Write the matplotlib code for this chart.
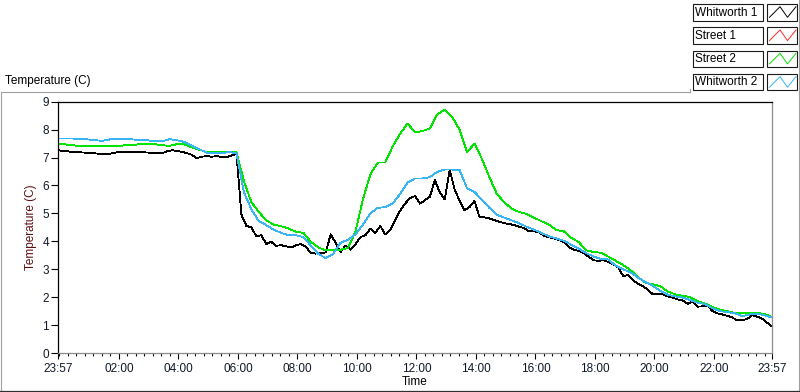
import numpy as np
import pandas as pd
import matplotlib
matplotlib.use("Agg")
import matplotlib.pyplot as plt
import matplotlib.dates as mdates
from matplotlib.lines import Line2D
from matplotlib.patches import Rectangle

W, H = 800, 392
plt.rcParams['font.family'] = ['Liberation Sans', 'DejaVu Sans']

# chart window: 24 hours starting at 23:57
start = pd.Timestamp("2014-03-01 23:57")
end = start + pd.Timedelta(hours=24)

series_names = ["Whitworth 1", "Street 1", "Street 2", "Whitworth 2"]
series_colors = ["#000000", "#ff2a2a", "#00e400", "#38b6f4"]

# Whitworth 1, one reading every 10 minutes
whitworth1 = [
    7.26, 7.24, 7.22, 7.20, 7.19, 7.18, 7.17, 7.16, 7.14, 7.12, 7.13, 7.15,
    7.19, 7.19, 7.20, 7.19, 7.20, 7.19, 7.18, 7.17, 7.17, 7.16, 7.22, 7.26,
    7.24, 7.20, 7.16, 7.10, 6.98, 7.03, 7.05, 7.03, 7.05, 7.02, 7.00, 7.08,
    7.12, 4.95, 4.55, 4.50, 4.18, 4.22, 3.90, 3.98, 3.84, 3.86, 3.82, 3.78,
    3.86, 3.90, 3.80, 3.58, 3.56, 3.58, 3.60, 4.25, 3.95, 3.62, 3.85, 3.70,
    3.90, 4.15, 4.22, 4.45, 4.30, 4.55, 4.25, 4.40, 4.76, 5.10, 5.35, 5.55,
    5.62, 5.35, 5.47, 5.60, 6.19, 5.75, 5.50, 6.55, 5.85, 5.45, 5.11, 5.23,
    5.45, 4.87, 4.86, 4.82, 4.76, 4.70, 4.65, 4.62, 4.58, 4.52, 4.48, 4.36,
    4.36, 4.32, 4.20, 4.15, 4.10, 4.05, 3.98, 3.80, 3.70, 3.66, 3.58, 3.45,
    3.32, 3.30, 3.32, 3.26, 3.18, 3.06, 2.75, 2.80, 2.60, 2.47, 2.40, 2.25,
    2.10, 2.12, 2.10, 2.03, 1.98, 1.92, 1.88, 1.76, 1.84, 1.66, 1.67, 1.70,
    1.50, 1.42, 1.38, 1.33, 1.27, 1.17, 1.18, 1.22, 1.35, 1.30, 1.23, 1.08,
    0.96,
]

# Street 1 shows in the legend but has no trace on the graph
street1 = []

# Street 2 and Whitworth 2, one reading every 15 minutes
street2 = [
    7.50, 7.47, 7.44, 7.41, 7.41, 7.41, 7.41, 7.41, 7.41, 7.44, 7.44, 7.48,
    7.48, 7.48, 7.44, 7.42, 7.48, 7.47, 7.36, 7.28, 7.20, 7.20, 7.20, 7.20,
    7.20, 6.15, 5.40, 5.05, 4.75, 4.60, 4.54, 4.46, 4.34, 4.30, 3.98, 3.78,
    3.68, 3.68, 3.70, 3.76, 4.35, 5.50, 6.40, 6.82, 6.82, 7.40, 7.85, 8.22,
    7.90, 7.95, 8.04, 8.55, 8.72, 8.45, 8.00, 7.20, 7.50, 6.95, 6.30, 5.70,
    5.40, 5.17, 5.05, 4.98, 4.85, 4.72, 4.60, 4.40, 4.36, 4.12, 3.98, 3.68,
    3.62, 3.59, 3.45, 3.30, 3.15, 2.96, 2.72, 2.51, 2.46, 2.39, 2.20, 2.10,
    2.05, 2.00, 1.86, 1.77, 1.65, 1.55, 1.50, 1.43, 1.43, 1.43, 1.43, 1.40,
    1.29,
]

whitworth2 = [
    7.68, 7.68, 7.68, 7.66, 7.65, 7.62, 7.60, 7.65, 7.65, 7.65, 7.65, 7.62,
    7.62, 7.58, 7.58, 7.66, 7.62, 7.56, 7.42, 7.30, 7.17, 7.15, 7.15, 7.20,
    7.15, 5.75, 5.15, 4.72, 4.58, 4.42, 4.30, 4.22, 4.22, 4.15, 3.85, 3.55,
    3.40, 3.55, 3.95, 4.05, 4.25, 4.60, 5.00, 5.20, 5.22, 5.35, 5.70, 6.10,
    6.25, 6.25, 6.30, 6.49, 6.57, 6.57, 6.55, 5.90, 5.77, 5.48, 5.20, 4.95,
    4.85, 4.75, 4.65, 4.52, 4.42, 4.30, 4.18, 4.10, 4.02, 3.88, 3.74, 3.58,
    3.45, 3.37, 3.35, 3.12, 3.00, 2.88, 2.70, 2.54, 2.40, 2.22, 2.08, 2.03,
    1.98, 1.90, 1.80, 1.75, 1.60, 1.50, 1.46, 1.43, 1.32, 1.38, 1.41, 1.35,
    1.27,
]

x_tick_labels = ["23:57", "02:00", "04:00", "06:00", "08:00", "10:00", "12:00",
                 "14:00", "16:00", "18:00", "20:00", "22:00", "23:57"]
y_ticks = [0, 1, 2, 3, 4, 5, 6, 7, 8, 9]


def fx(x):
    return x / W


def fy(y):
    return 1 - y / H


fig = plt.figure(figsize=(W / 100, H / 100), dpi=100)
fig.patch.set_facecolor("white")

ax = fig.add_axes([fx(58), fy(353), (772 - 58) / W, (353 - 101.7) / H])

all_series = [whitworth1, street1, street2, whitworth2]
for name, color, vals in zip(series_names, series_colors, all_series):
    if len(vals) == 0:
        continue
    times = pd.date_range(start, end, periods=len(vals))
    ax.plot(times, vals, color=color, lw=0.6, label=name, antialiased=False)

ax.set_xlim(start, end)
ax.set_ylim(0, 9)

# x ticks: both ends read 23:57, the rest are clock hours on the next day
day2 = (start + pd.Timedelta(hours=1)).strftime("%Y-%m-%d")
tick_times = [start] + [pd.Timestamp(f"{day2} {lab}") for lab in x_tick_labels[1:-1]] + [end]
ax.set_xticks(tick_times)
ax.set_xticklabels(x_tick_labels)
midnight = mdates.date2num(pd.Timestamp(f"{day2} 00:00"))
minor = midnight + np.arange(0, 90) * (2 / 24 / 7)
minor = minor[minor <= mdates.date2num(end) + 1e-6]
ax.set_xticks(minor, minor=True)

ax.set_yticks(y_ticks)
ax.tick_params(axis="y", length=5, width=0.8, pad=1.5, labelsize=8.5, colors="black")
ax.tick_params(axis="x", which="major", length=4, width=0.8, pad=3, labelsize=8.5)
ax.tick_params(axis="x", which="minor", length=2.5, width=0.8)
for lab in ax.get_xticklabels() + ax.get_yticklabels():
    lab.set_color("#101828")

ax.spines["left"].set_color("black")
ax.spines["top"].set_color("black")
ax.spines["right"].set_color("#8c8c8c")
ax.spines["bottom"].set_color("#8c8c8c")
for s in ax.spines.values():
    s.set_linewidth(0.9)

ax.set_ylabel("Temperature (C)", fontsize=8.5, color="#5a1010", labelpad=4)
ax.set_xlabel("Time", fontsize=8.5, labelpad=1)

# panel title above the plot frame
fig.text(fx(5), fy(81), "Temperature (C)", fontsize=8.5, ha="left", va="center")

# outer panel frame
frame = [((1, 92), (1, 391)), ((1, 92), (690, 92)), ((690, 92), (690, 89)),
         ((799, 0), (799, 391))]
for (x0, y0), (x1, y1) in frame:
    fig.add_artist(Line2D([fx(x0), fx(x1)], [fy(y0), fy(y1)], color="#a0a0a0", lw=0.8))
fig.add_artist(Line2D([fx(0), fx(800)], [fy(391), fy(391)], color="#303030", lw=0.9))

# legend: text box + symbol box per series
for i, (name, color) in enumerate(zip(series_names, series_colors)):
    top = 4 + i * 23.3
    fig.add_artist(Rectangle((fx(692.5), fy(top + 16.5)), 70 / W, 16.5 / H,
                             facecolor="white", edgecolor="#1a1a1a", lw=0.8))
    fig.add_artist(Rectangle((fx(767), fy(top + 16.5)), 30 / W, 16.5 / H,
                             facecolor="white", edgecolor="#1a1a1a", lw=0.8))
    fig.text(fx(695), fy(top + 8.5), name, fontsize=8.5, ha="left", va="center")
    zx = [769.5, 780, 787.5, 796]
    zy = [top + 13.3, top + 2.7, top + 13.3, top + 2.7]
    fig.add_artist(Line2D([fx(v) for v in zx], [fy(v) for v in zy], color=color, lw=0.7))

fig.savefig("out.png", dpi=100)
